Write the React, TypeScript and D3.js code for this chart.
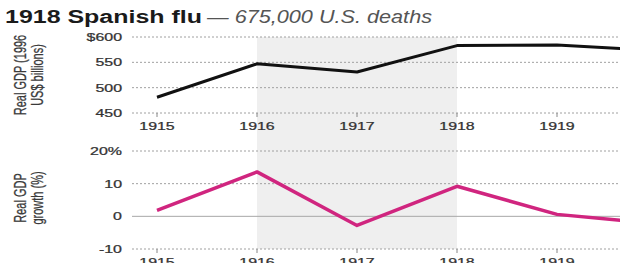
import React, { useEffect, useRef } from 'react';
import * as d3 from 'd3';

const years = [1915, 1916, 1917, 1918, 1919, 1920];
const realGdp = [481, 547, 531, 583, 584, 573];
const gdpGrowth = [1.8, 13.6, -2.8, 9.2, 0.6, -2.2];

const tickYears = [1915, 1916, 1917, 1918, 1919];
const gdpTicks = [450, 500, 550, 600];
const growthTicks = [-10, 0, 10, 20];
const fluBand = [1916, 1918];

const W = 620;
const H = 263;
const FONT = '"Liberation Sans", Arial, Helvetica, sans-serif';
// the source picture is stretched sideways, so glyphs get widened too
const SX = 1.45;

export default function App() {
  const svgRef = useRef<SVGSVGElement>(null);

  useEffect(() => {
    if (!svgRef.current) return;
    const svg = d3.select(svgRef.current);
    svg.selectAll('*').remove();

    const x = d3.scaleLinear().domain([1915, 1919]).range([157, 557]);
    const yTop = d3.scaleLinear().domain([450, 600]).range([113, 37]);
    const yBot = d3.scaleLinear().domain([-10, 20]).range([249, 151]);
    const gridLeft = 132;

    const label = (
      parent: d3.Selection<any, unknown, null, undefined>,
      tx: number,
      ty: number,
      s: string,
      anchor: string
    ) =>
      parent.append('text')
        .attr('transform', `translate(${tx},${ty}) scale(${SX},1)`)
        .attr('text-anchor', anchor)
        .attr('font-family', FONT)
        .attr('font-size', 11)
        .attr('fill', '#333')
        .attr('stroke', '#333')
        .attr('stroke-width', 0.25)
        .text(s);

    // flu years shading, across both panels
    svg.append('rect')
      .attr('x', x(fluBand[0]))
      .attr('y', yTop(600))
      .attr('width', x(fluBand[1]) - x(fluBand[0]))
      .attr('height', yBot(-10) - yTop(600))
      .attr('fill', '#efefef');

    // title
    svg.append('text')
      .attr('x', 5)
      .attr('y', 23)
      .attr('font-family', FONT)
      .attr('font-size', 18)
      .attr('font-weight', 'bold')
      .attr('fill', '#1a1a1a')
      .attr('textLength', 197)
      .attr('lengthAdjust', 'spacingAndGlyphs')
      .text('1918 Spanish flu');
    svg.append('text')
      .attr('x', 207)
      .attr('y', 23)
      .attr('font-family', FONT)
      .attr('font-size', 18)
      .attr('font-style', 'italic')
      .attr('fill', '#555')
      .attr('textLength', 225)
      .attr('lengthAdjust', 'spacingAndGlyphs')
      .text('\u2014 675,000 U.S. deaths');

    const panel = (
      y: d3.ScaleLinear<number, number>,
      ticks: number[],
      fmt: (v: number) => string,
      values: number[],
      color: string,
      width: number,
      zeroLine: boolean
    ) => {
      const g = svg.append('g');
      ticks.forEach(t => {
        const gl = g.append('line')
          .attr('x1', gridLeft).attr('x2', W)
          .attr('y1', y(t)).attr('y2', y(t))
          .attr('stroke-width', 1);
        if (zeroLine && t === 0) {
          gl.attr('stroke', '#a8a8a8');
        } else {
          gl.attr('stroke', '#a0a0a0').attr('stroke-dasharray', '2,2');
        }
        label(g, 122, y(t) + 4, fmt(t), 'end');
      });

      const base = y(ticks[0]);
      tickYears.forEach(yr => {
        g.append('line')
          .attr('x1', x(yr)).attr('x2', x(yr))
          .attr('y1', base).attr('y2', base + 4)
          .attr('stroke', '#888');
        label(g, x(yr), base + 17, String(yr), 'middle');
      });

      const line = d3.line<number>()
        .x((_, i) => x(years[i]))
        .y(d => y(d));
      g.append('path')
        .datum(values)
        .attr('fill', 'none')
        .attr('stroke', color)
        .attr('stroke-width', width)
        .attr('stroke-linejoin', 'round')
        .attr('d', line);
    };

    panel(yTop, gdpTicks, v => (v === 600 ? '$600' : String(v)), realGdp, '#111', 3, false);
    panel(yBot, growthTicks, v => (v === 20 ? '20%' : String(v)), gdpGrowth, '#d0257f', 3.5, true);

    const axisTitle = (lines: string[], cy: number) => {
      lines.forEach((s, i) => {
        svg.append('text')
          .attr('transform', `translate(${26 + i * 17},${cy}) rotate(-90) scale(1,${SX})`)
          .attr('text-anchor', 'middle')
          .attr('font-family', FONT)
          .attr('font-size', 11)
          .attr('fill', '#3a3a3a')
          .attr('stroke', '#3a3a3a')
          .attr('stroke-width', 0.2)
          .text(s);
      });
    };
    axisTitle(['Real GDP (1996', 'US$ billions)'], 75);
    axisTitle(['Real GDP', 'growth (%)'], 198);
  }, []);

  return (
    <div style={{ position: 'absolute', left: 0, top: 0 }}>
      <svg ref={svgRef} width={W} height={H} style={{ display: 'block', background: '#fff' }} />
    </div>
  );
}
